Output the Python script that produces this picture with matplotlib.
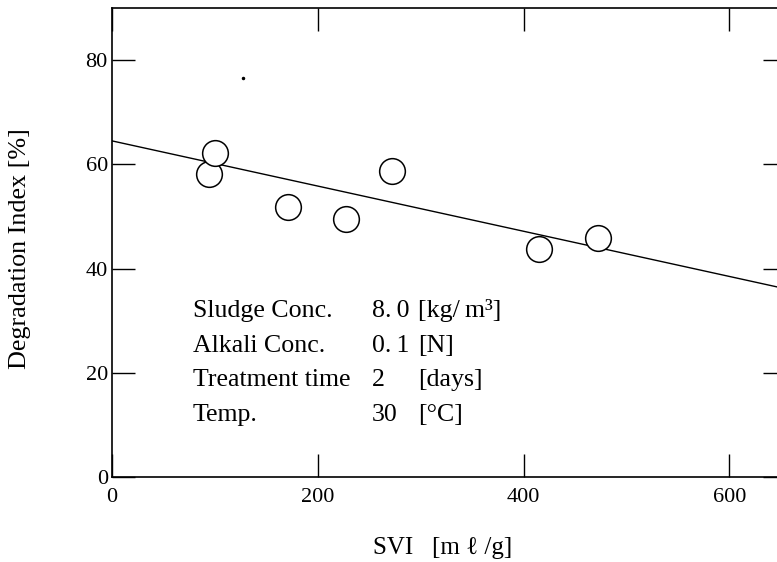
import matplotlib
matplotlib.use("Agg")
import matplotlib.pyplot as plt

# data
svi = [94, 100, 171, 227, 272, 415, 472]
degradation = [58.1, 62.1, 51.9, 49.6, 58.7, 43.7, 45.9]
fit_x = [0, 655]
fit_y = [64.5, 36.1]
speck_x = [127]
speck_y = [76.5]
xticks = [0, 200, 400, 600]
yticks = [0, 20, 40, 60, 80]
cond_names = ["Sludge Conc.", "Alkali Conc.", "Treatment time", "Temp."]
cond_values = ["8.\u20090", "0.\u20091", "2", "30"]
cond_units = ["[kg/\u2009m³]", "[N]", "[days]", "[°C]"]

FAM = ["Liberation Serif", "DejaVu Serif"]
plt.rcParams["font.family"] = FAM

fig = plt.figure(figsize=(7.77, 5.62), dpi=100)
ax = fig.add_axes([112/777, 1-477/562, (786-112)/777, (477-8)/562])

ax.plot(fit_x, fit_y, color="black", lw=1.0, zorder=2)
ax.plot(svi, degradation, linestyle="none", marker="o", ms=18.5,
        mfc="white", mec="black", mew=1.1, zorder=3)
ax.plot(speck_x, speck_y, linestyle="none", marker="o", ms=1.5,
        color="black", zorder=3)

ax.set_xlim(0, 655)
ax.set_ylim(0, 90)
ax.set_xticks(xticks)
ax.set_yticks(yticks)
ax.tick_params(direction="in", length=16.5, width=1.0, top=True, right=True,
               labelsize=16)
ax.tick_params(axis="x", pad=8)
ax.tick_params(axis="y", pad=3)
for s in ax.spines.values():
    s.set_linewidth(1.2)

ax.set_xlabel("SVI   [m \u2113 /g]", fontsize=18, family=FAM)
ax.xaxis.set_label_coords(0.49, (477-548)/469, transform=ax.transAxes)
ax.xaxis.label.set_va("center")
ax.set_ylabel("Degradation Index [%]", fontsize=18.8, family=FAM)
ax.yaxis.set_label_coords((20-112)/674, (477-249)/469, transform=ax.transAxes)
ax.yaxis.label.set_va("center")

baselines = [317, 352, 386, 421]
for name, val, unit, b in zip(cond_names, cond_values, cond_units, baselines):
    yy = 1 - b/562
    fig.text(193/777, yy, name, fontsize=18.6, va="baseline", ha="left", family=FAM)
    fig.text(372/777, yy, val, fontsize=18.6, va="baseline", ha="left", family=FAM)
    fig.text(418/777, yy, unit, fontsize=18.6, va="baseline", ha="left", family=FAM)

fig.savefig("out.png", dpi=100)
